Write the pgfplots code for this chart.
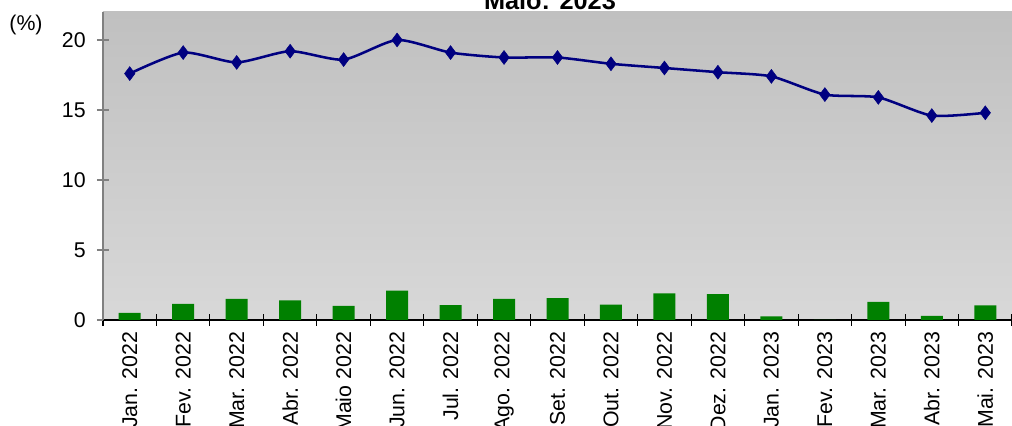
\documentclass[border=0pt]{standalone}
\usepackage{pgfplots}
\pgfplotsset{compat=1.18}
\usepackage{fontspec}
\setmainfont{Liberation Sans}
\definecolor{bgtop}{RGB}{192,192,192}
\definecolor{bgbot}{RGB}{216,216,216}
\definecolor{navyline}{RGB}{0,0,128}
\definecolor{barg}{RGB}{0,128,0}
\begin{document}
\fontsize{16}{19}\selectfont
\begin{tikzpicture}
\begin{axis}[
  at={(0,0)}, anchor=south west,
  scale only axis,
  width=681.75pt, height=231pt,
  xmin=-0.5, xmax=16.5,
  ymin=0, ymax=22,
  ytick={0,5,10,15,20},
  xtick={0,...,16},
  xticklabels={Jan. 2022,Fev. 2022,Mar. 2022,Abr. 2022,Maio 2022,Jun. 2022,Jul. 2022,Ago. 2022,Set. 2022,Out. 2022,Nov. 2022,Dez. 2022,Jan. 2023,Fev. 2023,Mar. 2023,Abr. 2023,Mai. 2023},
  major x tick style={draw=none},
  minor xtick={-0.5,0.5,...,16.5},
  minor tick length=9pt,
  minor x tick style={black, line width=0.8pt},
  major tick length=9pt,
  tick align=center,
  y tick style={gray, line width=0.8pt},
  /pgf/number format/assume math mode=true,
  xticklabel style={yshift=1pt, rotate=90, anchor=east, font=\fontsize{16}{19}\selectfont},
  yticklabel style={xshift=-3pt, font=\fontsize{16}{19}\selectfont},
  axis x line*=bottom, axis y line*=left,
  x axis line style={black, line width=0.8pt, -},
  y axis line style={gray, line width=0.8pt, -},
  axis background/.style={top color=bgtop, bottom color=bgbot},
  clip=false,
]
\addplot[ybar, bar width=16.5pt, fill=barg, draw=none] coordinates {
(0,0.5) (1,1.15) (2,1.5) (3,1.4) (4,1.0) (5,2.1) (6,1.07) (7,1.5) (8,1.57) (9,1.1) (10,1.9) (11,1.85) (12,0.25) (13,0.0) (14,1.3) (15,0.3) (16,1.05)
};
\addplot[navyline, line width=1.9pt, smooth, tension=0.4, mark=diamond*, mark size=5.2pt, mark options={fill=navyline, draw=navyline, line width=0.4pt}] coordinates {
(0,17.6) (1,19.1) (2,18.4) (3,19.2) (4,18.6) (5,20.0) (6,19.1) (7,18.75) (8,18.75) (9,18.3) (10,18.0) (11,17.7) (12,17.4) (13,16.1) (14,15.9) (15,14.6) (16,14.8)
};
\node[anchor=base, font=\bfseries\fontsize{19}{22}\selectfont] at (rel axis cs:0.4917,1) [yshift=1.5pt] {Maio: 2023};
\node[font=\fontsize{16}{19}\selectfont] at (rel axis cs:0,1) [xshift=-57.75pt, yshift=-9.75pt] {(\%)};
\coordinate (ll) at (rel axis cs:0,0);
\coordinate (ur) at (rel axis cs:1,1);
\end{axis}
\pgfresetboundingbox
\useasboundingbox ([xshift=-77.25pt,yshift=-79.5pt]ll) rectangle ([yshift=9pt]ur);
\end{tikzpicture}
\end{document}
